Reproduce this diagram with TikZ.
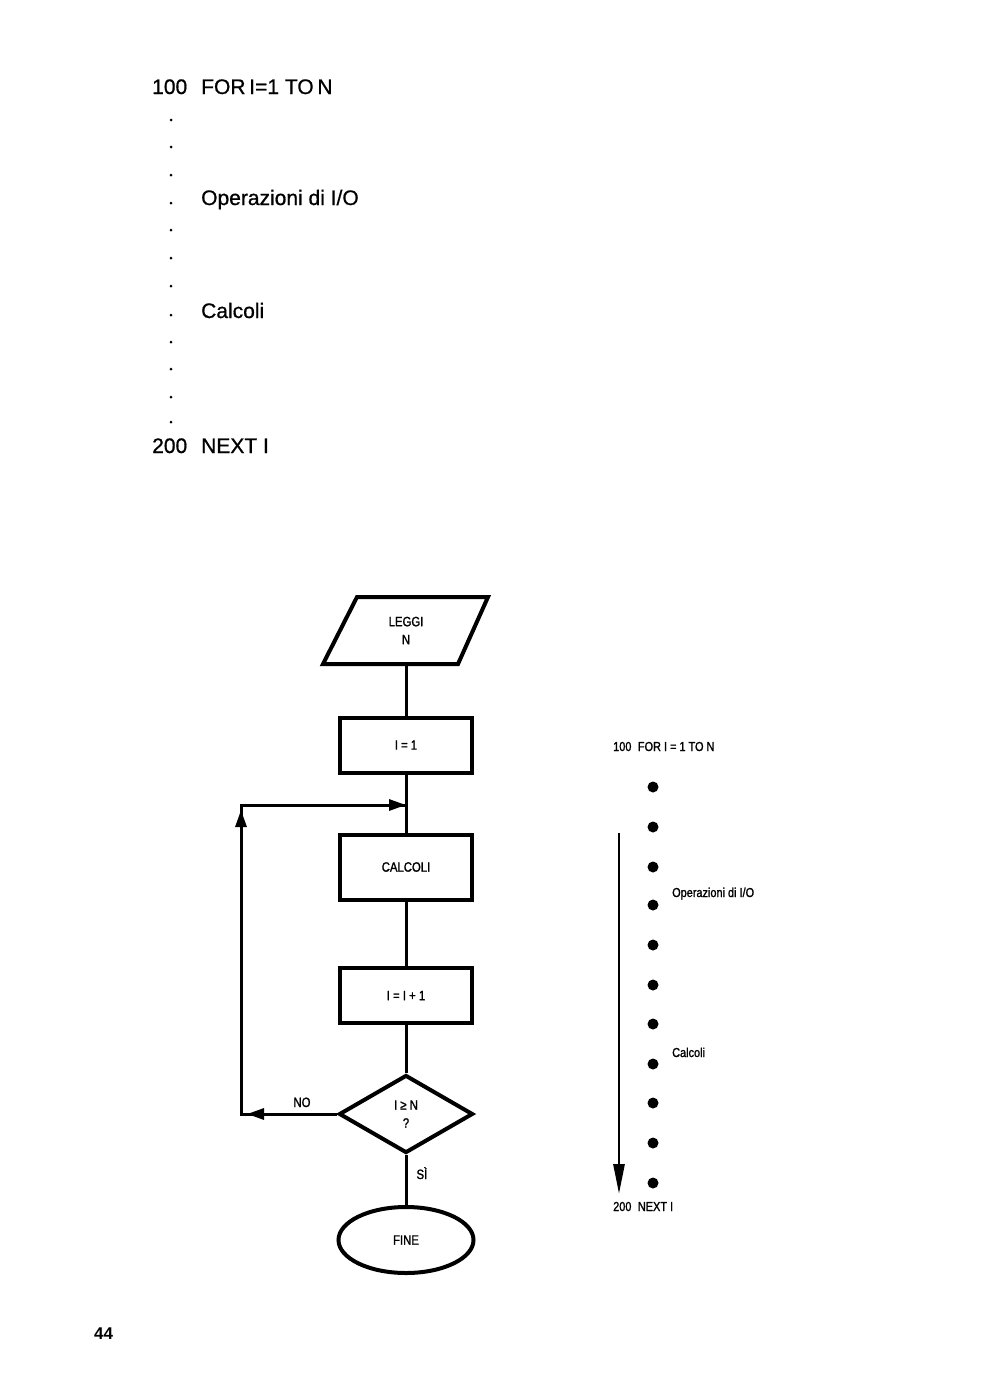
\documentclass[tikz,border=0pt]{standalone}
\usepackage{fontspec}
\setmainfont{Liberation Sans}
\newfontfamily\bigfont[FakeBold=0.8]{Liberation Sans}
\newfontfamily\condfont[FakeStretch=0.84,FakeBold=1.4]{Liberation Sans}
\usetikzlibrary{arrows.meta,shapes.geometric,calc}
\tikzset{
  bigtxt/.style={anchor=base west,inner sep=0pt,font=\bigfont\fontsize{21}{24}\selectfont},
  smalltxt/.style={anchor=base west,inner sep=0pt,font=\condfont\fontsize{13}{15}\selectfont},
  fctxt/.style={font=\condfont\fontsize{13.5}{18}\selectfont,align=center},
  procbox/.style={draw,line width=4pt,minimum width=132pt,minimum height=55pt,fctxt},
  conn/.style={line width=3pt},
  tinydot/.style={circle,fill,inner sep=0pt,minimum size=3pt},
  bigdot/.style={circle,fill,inner sep=0pt,minimum size=11pt},
  tip/.style={-{Triangle[length=17pt,width=11pt]}}
}
\begin{document}
\begin{tikzpicture}[x=1pt,y=-1pt]
\useasboundingbox (0,0) rectangle (987,1400);
% ---------- top listing ----------
\node[bigtxt] (h100) at (152,94) {100};
\node[bigtxt] (hfor) at (201,94) {FOR\hspace{-0.1em} I=1 TO\hspace{-0.1em} N};
\foreach \yy [count=\k] in {120,147,175,203,230,258,286,315,342,369,397,422}
  \node[tinydot] (td\k) at (171,\yy) {};
\node[bigtxt] (hio) at (201,205) {Operazioni di I/O};
\node[bigtxt] (hcalc) at (201,318) {Calcoli};
\node[bigtxt] (h200) at (152,453) {200};
\node[bigtxt] (hnext) at (201,453) {NEXT I};
% ---------- flowchart ----------
\draw[line width=4pt,line join=miter] (357,597) -- (488,597) -- (458,664) -- (323,664) -- cycle;
\node[fctxt,minimum width=100pt,minimum height=67pt,inner sep=0pt] (leggi) at (406,630.5) {LEGGI\\N};
\node[procbox] (i1) at (406,745) {I = 1};
\node[procbox,minimum height=65pt] (calc) at (406,867) {CALCOLI};
\node[procbox] (inc) at (406,995.5) {I = I + 1};
\node[draw,diamond,line width=4pt,minimum width=134pt,minimum height=78pt,inner sep=0pt,aspect=1.7,fctxt] (test) at (406,1114) {I ≥ N\\?};
\node[draw,ellipse,line width=4pt,minimum width=135pt,minimum height=66pt,inner sep=0pt,fctxt] (fine) at (406,1240) {FINE};
\coordinate (join) at (406,805);
\coordinate (cl) at (241,1114);
\coordinate (ct) at (241,805);
\draw[conn] (leggi.south) -- (i1.north);
\draw[conn] (i1.south) -- (calc.north);
\draw[conn] (calc.south) -- (inc.north);
\draw[conn] (inc.south) -- (test.north);
\draw[conn] (test.south) -- (fine.north);
\draw[conn,line join=miter] (test.west) -- (cl) -- (ct) -- (join);
\draw[conn,tip] ($(join)+(-30,0)$) -- (join);
\draw[conn,tip] (241,845) -- (241,810);
\draw[conn,tip] (285,1114) -- (247,1114);
\node[fctxt,anchor=base] (no) at (302,1107) {NO};
\node[fctxt,anchor=base west] (si) at (413,1179) {SÌ};
% ---------- right column ----------
\node[smalltxt] (r100) at (613,751) {100\hspace{0.5em}FOR I = 1 TO N};
\foreach \yy [count=\k] in {787,827,867,905,945,985,1024,1064,1103,1143,1183}
  \node[bigdot] (bd\k) at (653,\yy) {};
\node[smalltxt] (rio) at (672,897) {Operazioni di I/O};
\node[smalltxt] (rcalc) at (672,1057) {Calcoli};
\node[smalltxt] (r200) at (613,1211) {200\hspace{0.5em}NEXT I};
\coordinate (as) at (619,833);
\coordinate (ae) at (619,1194);
\draw[line width=2.8pt,-{Triangle[length=30pt,width=11pt]}] (as) -- (ae);
% ---------- page number ----------
\node[anchor=base west,inner sep=0pt,font=\bfseries\fontsize{17}{20}\selectfont] (pg) at (94,1339) {44};
\end{tikzpicture}
\end{document}
